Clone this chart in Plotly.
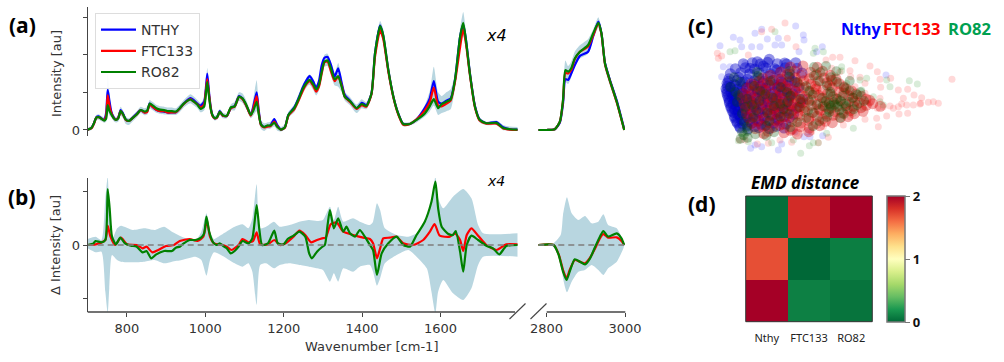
import plotly.graph_objects as go

W, H = 1004, 362
def px(x): return x / W
def py(y): return 1 - y / H

# ---------- panel (a) ----------
wn_a = [700,710,716,722,728,735,742,747,751,755,
        760,766,772,778,784,790,797,805,815,825,
        835,845,852,858,865,875,885,895,905,915,
        925,935,945,955,962,970,980,988,997,1001,
        1005,1010,1014,1018,1024,1030,1037,1045,1055,1065,
        1075,1086,1095,1105,1116,1122,1131,1136,1142,1150,
        1158,1166,1176,1184,1193,1203,1212,1227,1238,1249,
        1258,1266,1275,1283,1290,1297,1304,1312,1320,1330,
        1339,1348,1356,1369,1386,1399,1411,1424,1433,1446,
        1454,1467,1480,1492,1505,1522,1539,1560,1573,1583,
        1594,1603,1615,1626,1637,1650,1658,1665,1675,1688,
        1700,1717,1743,1760,1777,1797]
a_ro = [.01,.06,.18,.33,.34,.30,.25,.30,.66,.52,
        .42,.32,.27,.31,.50,.42,.28,.24,.32,.41,
        .53,.49,.52,.70,.66,.58,.54,.53,.50,.50,
        .49,.58,.70,.78,.81,.76,.67,.56,.62,.90,
        1.28,.85,.55,.40,.32,.34,.48,.39,.38,.60,
        .63,.88,.84,.66,.40,.50,.75,.45,.15,.08,
        .12,.12,.19,.08,.01,.07,.40,.58,.82,1.10,
        1.25,1.33,1.22,1.08,1.20,1.55,1.82,1.85,1.65,1.35,
        1.43,1.15,.88,.77,.58,.69,.64,.97,2.04,2.76,
        2.52,1.59,.88,.44,.16,.16,.27,.44,.64,.82,
        .58,.69,.75,.81,1.33,2.48,2.85,2.39,1.50,.62,
        .27,.18,.19,.05,.02,.01]
a_ny = [.01,.06,.18,.34,.36,.31,.27,.45,1.07,.80,
        .50,.34,.27,.33,.53,.44,.28,.24,.33,.43,
        .53,.47,.50,.70,.62,.54,.50,.49,.46,.47,
        .47,.58,.70,.80,.85,.80,.70,.65,.75,1.05,
        1.50,.95,.60,.40,.31,.34,.50,.38,.37,.58,
        .64,.90,.84,.64,.40,.60,1.0,.55,.15,.08,
        .10,.12,.29,.12,.01,.07,.40,.60,.85,1.14,
        1.32,1.43,1.30,1.12,1.30,1.72,1.92,1.94,1.75,1.42,
        1.64,1.25,.93,.78,.57,.72,.66,.97,2.04,2.78,
        2.50,1.59,.88,.45,.16,.16,.28,.58,.85,1.30,
        .75,.70,.78,.84,1.33,2.48,2.80,2.40,1.52,.64,
        .28,.18,.21,.07,.02,.01]
a_ft = [.01,.05,.17,.33,.34,.30,.26,.38,.92,.68,
        .46,.32,.27,.32,.50,.41,.27,.24,.32,.41,
        .53,.46,.48,.68,.62,.54,.50,.50,.46,.47,
        .47,.57,.69,.78,.82,.76,.68,.60,.68,1.0,
        1.35,.90,.57,.38,.31,.33,.48,.38,.37,.58,
        .62,.88,.82,.64,.38,.55,.90,.50,.13,.07,
        .09,.10,.22,.09,.01,.06,.38,.55,.78,1.05,
        1.22,1.30,1.18,1.02,1.15,1.50,1.80,1.82,1.58,1.30,
        1.42,1.18,.88,.75,.56,.66,.62,.95,1.95,2.65,
        2.42,1.55,.86,.42,.14,.16,.28,.52,.75,1.13,
        .65,.63,.70,.78,1.28,2.20,2.68,2.30,1.47,.60,
        .25,.17,.17,.04,.01,.0]
a_hi = [.05,.12,.25,.40,.42,.37,.34,.60,1.50,1.05,
        .58,.41,.33,.42,.62,.52,.36,.31,.40,.50,
        .62,.58,.62,.80,.75,.67,.63,.62,.60,.60,
        .58,.68,.80,.90,.95,.90,.80,.72,.85,1.20,
        1.65,1.1,.7,.47,.38,.42,.56,.46,.44,.68,
        .75,1.0,.97,.78,.50,.8,1.32,.75,.25,.18,
        .20,.22,.32,.18,.08,.15,.48,.68,.94,1.22,
        1.38,1.48,1.37,1.20,1.35,1.72,2.0,2.03,1.82,1.50,
        1.78,1.38,1.0,.88,.68,.82,.74,1.08,2.2,2.9,
        2.68,1.72,.98,.52,.21,.21,.33,.66,1.05,1.68,
        1.0,.90,1.0,1.08,1.5,2.7,3.14,2.62,1.68,.74,
        .33,.22,.25,.13,.09,.08]
a_lo = [-.02,.0,.11,.26,.27,.23,.19,.22,.50,.40,
        .34,.24,.20,.22,.38,.32,.16,.13,.23,.33,
        .45,.39,.41,.58,.53,.46,.43,.41,.40,.40,
        .40,.48,.60,.68,.71,.66,.58,.47,.52,.70,
        1.0,.65,.43,.32,.25,.27,.40,.31,.31,.52,
        .52,.77,.72,.55,.31,.38,.50,.28,.03,-.03,
        .03,.03,.10,-.02,-.04,.01,.32,.47,.72,.98,
        1.13,1.20,1.07,.92,1.05,1.38,1.68,1.70,1.48,1.18,
        1.15,1.0,.78,.66,.45,.58,.55,.88,1.9,2.55,
        2.35,1.47,.80,.37,.10,.12,.20,.36,.50,.65,
        .40,.45,.5,.55,1.1,2.2,2.5,2.15,1.35,.50,
        .20,.13,.13,-.01,-.02,-.02]

wn_a2 = [2779,2800,2821,2834,2842,2848,2855,2863,2872,2885,2906,2919,2932,2940,2949,2961,2979,2998]
a2_ro = [0,0,.02,.22,.80,1.59,1.55,1.64,1.90,2.08,2.26,2.57,2.85,2.57,1.77,1.33,.75,0]
a2_ny = [0,0,.02,.20,.70,1.35,1.33,1.50,1.72,1.97,2.08,2.50,2.88,2.57,1.78,1.35,.78,.02]
a2_ft = [0,0,.02,.22,.78,1.52,1.50,1.60,1.88,2.08,2.22,2.52,2.83,2.55,1.75,1.32,.73,0]
a2_hi = [.01,.01,.05,.33,1.0,1.85,1.70,1.82,2.08,2.25,2.42,2.68,3.0,2.70,1.90,1.45,.85,.03]
a2_lo = [0,0,0,.14,.65,1.28,1.22,1.40,1.70,1.90,2.03,2.40,2.72,2.42,1.62,1.20,.65,-.02]

# ---------- panel (b) ----------
wn_b_ro = [700,715,720,735,745,751,756,762,772,783,795,810,825,840,850,862,875,895,915,925,935,945,960,975,990,997,1003,1010,1020,1030,1037,1048,1055,1065,1075,1085,1095,1110,1120,1131,1138,1145,1160,1176,1185,1200,1210,1225,1240,1255,1265,1272,1285,1298,1305,1312,1318,1328,1339,1352,1360,1369,1382,1394,1407,1420,1428,1438,1450,1467,1488,1505,1522,1539,1560,1577,1587,1594,1603,1620,1632,1639,1650,1658,1667,1679,1696,1717,1734,1750,1768,1797]
b_ro = [0,5,12,8,15,168,110,25,2,22,5,-2,-5,-22,-18,-40,-28,-18,-18,-8,-5,5,15,15,23,35,85,40,8,0,5,-5,-10,-25,-18,-5,12,5,20,120,45,0,5,43,5,2,18,28,40,25,-25,-40,-20,-6,0,60,105,50,80,40,55,35,25,45,25,0,-15,-90,-25,5,25,0,-5,30,70,130,190,110,55,33,30,42,-20,-80,0,28,15,-2,-10,-28,-3,0]
wn_b_ft = [700,720,745,751,758,770,785,800,825,840,850,865,880,900,920,935,960,980,995,1004,1012,1022,1032,1045,1055,1067,1085,1095,1110,1122,1131,1140,1160,1176,1190,1205,1225,1240,1255,1270,1285,1298,1307,1320,1335,1352,1377,1403,1420,1428,1438,1446,1454,1471,1488,1505,1530,1556,1573,1585,1598,1624,1637,1650,1658,1667,1679,1696,1717,1743,1768,1797]
b_ft = [0,2,15,58,25,0,22,2,0,-10,-5,-22,-15,-3,0,12,18,12,25,75,25,5,2,0,-5,-15,0,18,8,12,38,2,2,15,0,5,25,43,30,8,15,20,22,62,68,40,30,22,18,5,-40,-10,20,22,25,5,0,15,40,63,28,25,35,15,-18,30,50,28,0,-15,2,2]
wn_b_band = [700,720,735,745,751,755,762,775,785,815,845,870,895,915,940,975,990,1003,1012,1022,1040,1075,1095,1110,1120,1131,1140,1155,1175,1190,1215,1240,1265,1285,1300,1318,1328,1339,1352,1377,1394,1420,1428,1438,1446,1458,1488,1518,1539,1565,1577,1587,1594,1607,1632,1658,1679,1696,1709,1797]
b_hi = [18,25,15,140,205,110,15,50,58,45,50,45,55,40,25,15,40,95,40,18,30,55,62,50,80,182,50,55,70,55,60,70,75,72,75,115,75,115,70,80,70,60,70,125,105,50,30,25,35,75,130,205,140,110,145,168,140,60,35,35]
b_lo = [-10,-22,-20,-140,-205,-130,-30,-45,-50,-52,-50,-45,-55,-50,-45,-35,-45,-92,-45,-22,-30,-55,-65,-55,-80,-180,-60,-55,-70,-60,-55,-60,-65,-70,-75,-110,-85,-110,-70,-80,-65,-60,-80,-122,-100,-55,-30,-15,-35,-70,-140,-205,-140,-105,-145,-165,-130,-60,-35,-35]

wn_b2 = [2779,2818,2831,2842,2851,2859,2872,2885,2898,2911,2924,2936,2945,2957,2979,2991,2998]
b2_ro = [0,0,-30,-80,-105,-80,-43,-50,-58,-40,-5,25,42,25,35,20,0]
b2_ft = [0,0,-28,-75,-100,-75,-45,-50,-55,-38,-10,20,33,22,23,12,0]
wn_b2_band = [2779,2814,2836,2842,2852,2864,2881,2898,2915,2932,2945,2957,2979,2996,2998]
b2_hi = [2,2,30,90,143,95,75,87,65,70,92,60,50,10,0]
b2_lo = [-2,-3,-40,-100,-142,-110,-80,-75,-60,-75,-90,-70,-50,-10,0]

# ---------- panel (c): scores, sparse individual points ----------
c_red_x = [315,275,245,112,125,115,205,348,322,458,480,525,570,592,510,512,540,600,632,602,655,683,702,725,745,760,775,722,700,680,655,630,610,683,657,620,595,590,555,510,490,445,415,335,300,232,195,178,816,480,455,438,525,555,570,592,640,665,720,670,600,555,470,430,395,350,265,245]
c_red_y = [69,88,95,160,168,175,165,140,115,172,172,182,198,215,212,230,232,238,235,262,270,268,285,293,307,305,310,310,315,315,320,318,320,340,342,348,380,355,358,350,375,412,428,427,420,432,420,420,238,215,205,180,260,280,310,325,325,312,312,295,295,250,350,380,395,400,430,405]
c_blue_x = [347,225,245,262,370,372,160,180,120,185,215,240,295,285,305,427,357,410,618,195,150,130,125,295,212,305,245,225,372,428,385,390,345]
c_blue_y = [78,100,88,117,105,120,112,120,137,140,140,140,115,135,135,140,155,155,225,190,200,200,230,450,445,432,440,435,410,407,395,410,395]
c_green_x = [285,150,165,405,400,430,485,485,465,500,540,560,620,688,712,630,545,500,600,610,520,440,415,400,388,362,175,205,190,275,340,580,550,520,500]
c_green_y = [95,155,152,145,160,155,200,212,225,250,240,235,240,242,252,260,270,270,305,315,385,400,428,428,437,460,422,425,410,428,420,290,325,340,330]

# dense centre of the cloud
core_blue_x = [147,176,203,236,264,297,328,141,162,188,222,249,282,309,344,138,151,172,198,231,258,292,318,356,141,153,164,187,214,247,273,306,338,146,156,169,178,203,228,262,288,327,368,148,159,171,186,204,227,253,287,318,362,153,164,179,194,222,248,281,308,352,161,173,188,212,238,272,298,341,164,182,199,227,253,291,328,172,188,217,243,282,318,181,204,236,268,312,210,250,290,232,268,320,
               190,217,241,263,292,314,347,166,196,224,257,284,316,351,151,182,209,238,271,301,329,366,145,171,194,223,251,279,304,336,142,166,188,216,241,269,296,324,140,161,184,206,233,257,286,311,346,143,159,179,197,223,247,276,301,331,148,163,175,194,214,241,264,296,324,152,168,181,201,221,246,271,301,334,157,174,189,211,234,261,289,321,163,179,201,221,249,277,311,169,189,209,236,261,296,178,201,224,256,289]
core_blue_y = [236,232,238,233,229,238,231,250,253,247,252,248,254,249,246,266,262,267,263,268,264,262,267,263,281,278,283,279,282,277,283,279,281,296,292,297,294,298,293,297,294,292,297,309,312,308,313,309,312,308,311,313,308,324,328,323,327,322,327,324,328,323,338,342,339,343,338,342,339,343,354,357,353,358,354,357,353,369,372,368,373,369,372,384,387,383,386,384,205,198,210,185,178,192,
               191,188,192,187,191,189,188,206,203,207,204,206,203,205,221,218,222,219,221,218,222,219,244,241,245,242,244,241,245,242,259,256,260,257,259,256,260,257,274,271,275,272,274,271,275,272,274,289,286,290,287,289,286,290,287,289,304,301,305,302,304,301,305,302,304,319,316,320,317,319,316,320,317,319,334,331,335,332,334,331,335,332,349,346,350,347,349,346,350,364,361,365,362,364,361,379,376,380,377,379]
core_red_x = [302,344,392,428,248,303,346,388,432,468,214,262,304,352,393,441,478,201,244,292,328,372,408,457,498,188,237,278,322,358,402,443,492,528,186,228,272,308,347,383,427,468,517,558,192,233,277,308,342,368,412,448,497,538,578,196,238,282,314,347,373,417,453,502,543,199,247,283,322,353,397,438,487,523,206,253,302,338,387,428,482,214,267,308,362,408,457,226,278,337,388,252,312,352,
              331,369,412,271,322,364,409,451,236,281,326,371,414,456,226,269,316,359,406,449,491,216,254,301,344,386,429,476,514,211,256,294,336,374,416,459,506,544,209,251,289,326,359,396,434,481,524,569,216,259,296,329,361,394,436,474,521,559,601,219,266,299,336,374,421,464,511,549,226,269,316,359,411,459,504,234,286,334,386,436,246,299,361,419,264,331,386]
core_red_y = [216,213,217,214,234,237,233,236,234,237,251,248,252,249,252,248,251,264,267,263,266,264,267,263,266,281,278,282,279,283,278,281,279,282,294,297,293,296,294,297,293,296,294,297,311,308,312,309,311,308,312,309,311,308,311,326,323,327,324,326,323,327,324,326,323,341,338,342,339,341,338,342,339,341,354,357,353,356,354,357,353,371,368,372,369,371,368,386,383,387,384,401,398,402,
              201,198,202,226,223,227,224,226,244,241,245,242,244,241,259,256,260,257,259,256,260,274,271,275,272,274,271,275,272,289,286,290,287,289,286,290,287,289,304,301,305,302,304,301,305,302,304,301,319,316,320,317,319,316,320,317,319,316,319,334,331,335,332,334,331,335,332,334,349,346,350,347,349,346,350,364,361,365,362,364,379,376,380,377,394,391,395]
core_green_x = [402,438,162,232,328,402,452,151,222,302,378,441,492,174,256,332,398,452,488,532,171,238,322,388,438,462,482,508,552,196,282,358,428,452,472,498,186,262,328,402,448,492,192,268,352,418,186,202,282,182,203,
                231,329,421,469,181,271,352,419,471,509,166,241,321,389,451,509,541,201,279,361,426,471,519,216,301,409,446,464,491,531,229,311,384,446,479,521,219,301,379,441,481,201,259,331,399,191,226,259]
core_green_y = [201,198,232,228,231,227,232,261,258,262,259,257,262,286,283,287,284,282,287,284,306,303,307,304,302,307,304,306,303,321,318,322,319,317,322,319,341,338,342,339,337,342,366,363,367,364,396,393,397,416,413,
                216,213,217,214,246,243,247,244,246,243,276,273,277,274,276,273,277,296,293,297,294,296,293,314,311,315,312,314,311,315,331,328,332,329,331,328,353,350,354,351,353,381,378,382,379,406,403,407]

# ---------- panel (d) ----------
emd_labels = ["Nthy", "FTC133", "RO82"]
emd_rows = ["r1", "r2", "r3"]
emd_row1 = [0.03, 1.82, 2.0]
emd_row2 = [1.70, 0.0, 0.09]
emd_row3 = [2.0, 0.10, 0.05]

BAND = "rgb(184,214,224)"
BLUE, RED, GREEN = "#0000ff", "#ff0000", "#008000"
AX = "#444444"
TXT = "#333333"
LW = 2.2
SMOOTH = 0.6

fig = go.Figure()

def band(x, hi, lo, xa, ya):
    edge = dict(width=0, color=BAND, shape="spline", smoothing=SMOOTH)
    fig.add_trace(go.Scatter(x=x, y=hi, xaxis=xa, yaxis=ya, mode="lines", line=edge,
                             showlegend=False, hoverinfo="skip"))
    fig.add_trace(go.Scatter(x=x, y=lo, xaxis=xa, yaxis=ya, mode="lines", line=edge,
                             fill="tonexty", fillcolor=BAND, showlegend=False, hoverinfo="skip"))

def line(x, y, color, xa, ya, name=None):
    fig.add_trace(go.Scatter(x=x, y=y, xaxis=xa, yaxis=ya, mode="lines",
                             line=dict(color=color, width=LW, shape="spline", smoothing=SMOOTH),
                             name=name, showlegend=name is not None))

band(wn_a, a_hi, a_lo, "x", "y")
line(wn_a, a_ny, BLUE, "x", "y", "NTHY")
line(wn_a, a_ft, RED, "x", "y", "FTC133")
line(wn_a, a_ro, GREEN, "x", "y", "RO82")
band(wn_a2, a2_hi, a2_lo, "x2", "y2")
line(wn_a2, a2_ny, BLUE, "x2", "y2")
line(wn_a2, a2_ft, RED, "x2", "y2")
line(wn_a2, a2_ro, GREEN, "x2", "y2")

band(wn_b_band, b_hi, b_lo, "x3", "y3")
line(wn_b_ft, b_ft, RED, "x3", "y3")
line(wn_b_ro, b_ro, GREEN, "x3", "y3")
band(wn_b2_band, b2_hi, b2_lo, "x4", "y4")
line(wn_b2, b2_ft, RED, "x4", "y4")
line(wn_b2, b2_ro, GREEN, "x4", "y4")

def cloud(x, y, color, size, op):
    fig.add_trace(go.Scatter(x=x, y=y, xaxis="x5", yaxis="y5", mode="markers",
                             marker=dict(color=color, size=size, opacity=op, line=dict(width=0)),
                             showlegend=False, hoverinfo="skip"))

cloud(c_blue_x, c_blue_y, "#0000ff", 7, .15)
cloud(c_red_x, c_red_y, "#ff0000", 7, .15)
cloud(c_green_x, c_green_y, "#008000", 7, .15)
cloud(core_blue_x, core_blue_y, "#0000c8", 11, .42)
cloud(core_red_x, core_red_y, "#d80000", 11, .34)
cloud(core_green_x, core_green_y, "#005000", 10, .28)

fig.add_trace(go.Heatmap(z=[emd_row1, emd_row2, emd_row3], x=emd_labels, y=emd_rows, xaxis="x6", yaxis="y6",
                         colorscale="RdYlGn", reversescale=True, zmin=0, zmax=2, showscale=True,
                         colorbar=dict(x=px(887), xanchor="left", xpad=0, ypad=0, thickness=18,
                                       lenmode="fraction", len=126 / H, y=py(322), yanchor="bottom",
                                       outlinecolor="#777777", outlinewidth=1.5,
                                       tickvals=[0, 1, 2], ticks="outside", ticklen=5, tickcolor="#777777",
                                       tickfont=dict(family="Open Sans", size=13, color="#111111", weight="bold"))))

font_tick = dict(family="DejaVu Sans", size=13, color=TXT)
layout = dict(
    width=W, height=H, autosize=False, margin=dict(l=0, r=0, t=0, b=0, autoexpand=False),
    paper_bgcolor="white", plot_bgcolor="rgba(0,0,0,0)",
    legend=dict(x=px(95), y=py(13), xanchor="left", yanchor="top", bgcolor="rgba(255,255,255,.9)",
                bordercolor="#dddddd", borderwidth=1, font=dict(family="DejaVu Sans", size=14, color=TXT),
                itemwidth=35, tracegroupgap=0, traceorder="normal"),
    xaxis=dict(domain=[px(87.7), px(517.7)], range=[700, 1797], visible=False),
    xaxis2=dict(domain=[px(538.3), px(625)], range=[2779, 3000], visible=False),
    yaxis=dict(domain=[py(136), py(7)], range=[-.16, 3.27], anchor="x", tickvals=[0, 1, 2, 3],
               ticktext=["0", "", "", ""], ticks="outside", ticklen=4, tickcolor=AX, tickfont=font_tick,
               showline=True, linecolor=AX, linewidth=1.3, showgrid=False, zeroline=False),
    yaxis2=dict(domain=[py(136), py(7)], range=[-.16, 3.27], anchor="x2", visible=False),
    xaxis3=dict(domain=[px(87.7), px(517.7)], range=[700, 1797], anchor="y3", tickvals=[800, 1000, 1200, 1400, 1600],
                ticks="outside", ticklen=4, tickcolor=AX, tickfont=font_tick, showgrid=False, zeroline=False,
                showline=False),
    xaxis4=dict(domain=[px(538.3), px(625)], range=[2779, 3000], anchor="y4", tickvals=[2800, 3000],
                ticks="outside", ticklen=4, tickcolor=AX, tickfont=font_tick, showgrid=False, zeroline=False,
                showline=False),
    yaxis3=dict(domain=[py(312), py(178)], range=[-201, 201], anchor="x3", tickvals=[-160, 0, 160],
                ticktext=["", "0", ""], ticks="outside", ticklen=4, tickcolor=AX, tickfont=font_tick,
                showline=True, linecolor=AX, linewidth=1.3, showgrid=False, zeroline=False),
    yaxis4=dict(domain=[py(312), py(178)], range=[-201, 201], anchor="x4", visible=False),
    xaxis5=dict(domain=[px(680), px(1004)], range=[0, 972], visible=False),
    yaxis5=dict(domain=[py(170), py(0)], range=[510, 0], anchor="x5", visible=False),
    xaxis6=dict(domain=[px(745.7), px(872.3)], anchor="y6", showgrid=False, zeroline=False, ticks="outside",
                ticklen=6, tickcolor="rgba(0,0,0,0)",
                tickfont=dict(family="Noto Sans", size=11, color="#222222")),
    yaxis6=dict(domain=[py(321.7), py(196)], anchor="x6", autorange="reversed", visible=False, showgrid=False),
    shapes=[
        dict(type="line", xref="paper", yref="paper", x0=px(87.7), x1=px(515), y0=py(312), y1=py(312),
             line=dict(color=AX, width=1.3)),
        dict(type="line", xref="paper", yref="paper", x0=px(546.7), x1=px(625.3), y0=py(312), y1=py(312),
             line=dict(color=AX, width=1.3)),
        dict(type="line", xref="paper", yref="paper", x0=px(509.5), x1=px(525.5), y0=py(319), y1=py(303.5),
             line=dict(color=AX, width=1.1)),
        dict(type="line", xref="paper", yref="paper", x0=px(530.5), x1=px(546.5), y0=py(319), y1=py(303.5),
             line=dict(color=AX, width=1.1)),
        dict(type="line", xref="x3", yref="y3", x0=700, x1=1797, y0=0, y1=0,
             line=dict(color="rgba(130,130,130,.8)", width=2, dash="6px,4px")),
        dict(type="line", xref="x4", yref="y4", x0=2779, x1=3000, y0=0, y1=0,
             line=dict(color="rgba(130,130,130,.8)", width=2, dash="6px,4px")),
        dict(type="rect", xref="paper", yref="paper", x0=px(745.7), x1=px(872.3), y0=py(321.7), y1=py(196),
             line=dict(color="#333333", width=1)),
    ],
)

def note(text, x, y, size, family="Open Sans", color="#000000", angle=0, xanchor="center"):
    return dict(text=text, x=px(x), y=py(y), xref="paper", yref="paper", showarrow=False, xanchor=xanchor,
                yanchor="middle", textangle=angle, font=dict(family=family, size=size, color=color))

layout["annotations"] = [
    note("<b>(a)</b>", 22, 25, 21),
    note("<b>(b)</b>", 22, 197, 21),
    note("<b>(c)</b>", 700, 26, 21),
    note("<b>(d)</b>", 702, 204, 21),
    note("<i>x4</i>", 496, 36, 16, "DejaVu Sans"),
    note("<i>x4</i>", 496, 181, 14, "DejaVu Sans"),
    note("Intensity [au]", 56, 74, 13, "DejaVu Sans", TXT, -90),
    note("Δ Intensity [au]", 55, 245, 13, "DejaVu Sans", TXT, -90),
    note("Wavenumber [cm-1]", 371, 346, 13, "DejaVu Sans", TXT),
    note("<b>Nthy</b>", 839, 29, 16, color="#0000ff", xanchor="left"),
    note("<b>FTC133</b>", 881, 29, 16.5, color="#ff0000", xanchor="left"),
    note("<b>RO82</b>", 946, 29, 16.5, color="#00a050", xanchor="left"),
    note("<b><i>EMD distance</i></b>", 805, 182, 17),
]
fig.update_layout(**layout)
fig.write_html("out.html", config={"displayModeBar": False},
               post_script="document.body.style.margin='0';document.body.style.overflow='hidden';")
